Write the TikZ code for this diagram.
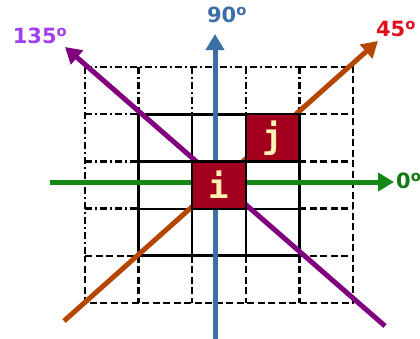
\documentclass[tikz,border=0pt]{standalone}
\usepackage{fontspec}
\setmainfont{DejaVu Sans}
\newfontfamily\monofnt{DejaVu Sans Mono}
\usetikzlibrary{arrows.meta}
\definecolor{cellred}{RGB}{163,0,30}
\definecolor{letteryel}{RGB}{255,242,179}
\definecolor{axgreen}{RGB}{20,135,20}
\definecolor{labgreen}{RGB}{20,120,20}
\definecolor{axblue}{RGB}{60,111,166}
\definecolor{axorange}{RGB}{180,70,0}
\definecolor{labred}{RGB}{224,16,30}
\definecolor{axpurple}{RGB}{128,0,128}
\definecolor{labpurple}{RGB}{160,64,240}
\tikzset{
  ddline/.style={line width=2.4pt, dash pattern=on 7pt off 3pt on 2pt off 3pt},
  dshline/.style={line width=2.4pt, dash pattern=on 7pt off 3.5pt},
  inline/.style={line width=2.2pt},
  frameline/.style={line width=3pt},
  axis/.style={line width=5pt, -{Triangle[length=16pt,width=18pt]}},
  cellbox/.style={draw=black, line width=2.2pt, fill=cellred, text=letteryel,
    minimum width=53.6pt, minimum height=47.2pt, inner sep=0pt,
    font=\monofnt\bfseries\fontsize{34}{34}\selectfont},
  anglab/.style={inner sep=0pt, font=\bfseries\fontsize{21}{21}\selectfont}
}
\begin{document}
\begin{tikzpicture}[x=1pt,y=-1pt]
\useasboundingbox (0,0) rectangle (420,338);
% dash-dot outer parts (top row, left column)
\draw[ddline] (85,67) -- (299.4,67);
\draw[ddline] (85,67) -- (85,255.8);
\foreach \xx in {138.6,192.2,245.8,299.4}
  \draw[ddline] (\xx,67) -- (\xx,114.2);
\foreach \yy in {114.2,161.4,208.6}
  \draw[ddline] (85,\yy) -- (138.6,\yy);
% dashed outer parts (right column, bottom row)
\draw[dshline] (299.4,67) -- (353,67) -- (353,303) -- (85,303) -- (85,255.8);
\foreach \yy in {114.2,161.4,208.6,255.8}
  \draw[dshline] (299.4,\yy) -- (353,\yy);
\foreach \xx in {138.6,192.2,245.8,299.4}
  \draw[dshline] (\xx,255.8) -- (\xx,303);
\draw[dshline] (85,255.8) -- (138.6,255.8);
% inner solid grid
\foreach \xx in {192.2,245.8}
  \draw[inline] (\xx,114.2) -- (\xx,255.8);
\foreach \yy in {161.4,208.6}
  \draw[inline] (138.6,\yy) -- (299.4,\yy);
\draw[frameline] (138.6,114.2) rectangle (299.4,255.8);
% axis end points
\coordinate (oS) at (64,321);
\coordinate (oE) at (378,41);
\coordinate (pS) at (385,326);
\coordinate (pE) at (65,47);
\coordinate (gS) at (50,182);
\coordinate (gE) at (394,182);
\coordinate (bS) at (215,340);
\coordinate (bE) at (215,34);
% axes
\draw[axis, axorange] (oS) -- (oE);
\draw[axis, axpurple] (pS) -- (pE);
\draw[axis, axgreen] (gS) -- (gE);
\draw[axis, axblue] (bS) -- (bE);
% labels
\node[anglab, text=labpurple] (l135) at (40,36) {135\textsuperscript{o}};
\node[anglab, text=axblue] (l90) at (227,15) {90\textsuperscript{o}};
\node[anglab, text=labred] (l45) at (396,29) {45\textsuperscript{o}};
\node[anglab, text=labgreen, anchor=west] (l0) at (396,181) {0\textsuperscript{o}};
% cells
\node[cellbox] (ci) at (219,185) {i};
\node[cellbox] (cj) at (272.6,137.8) {j};
\end{tikzpicture}
\end{document}
